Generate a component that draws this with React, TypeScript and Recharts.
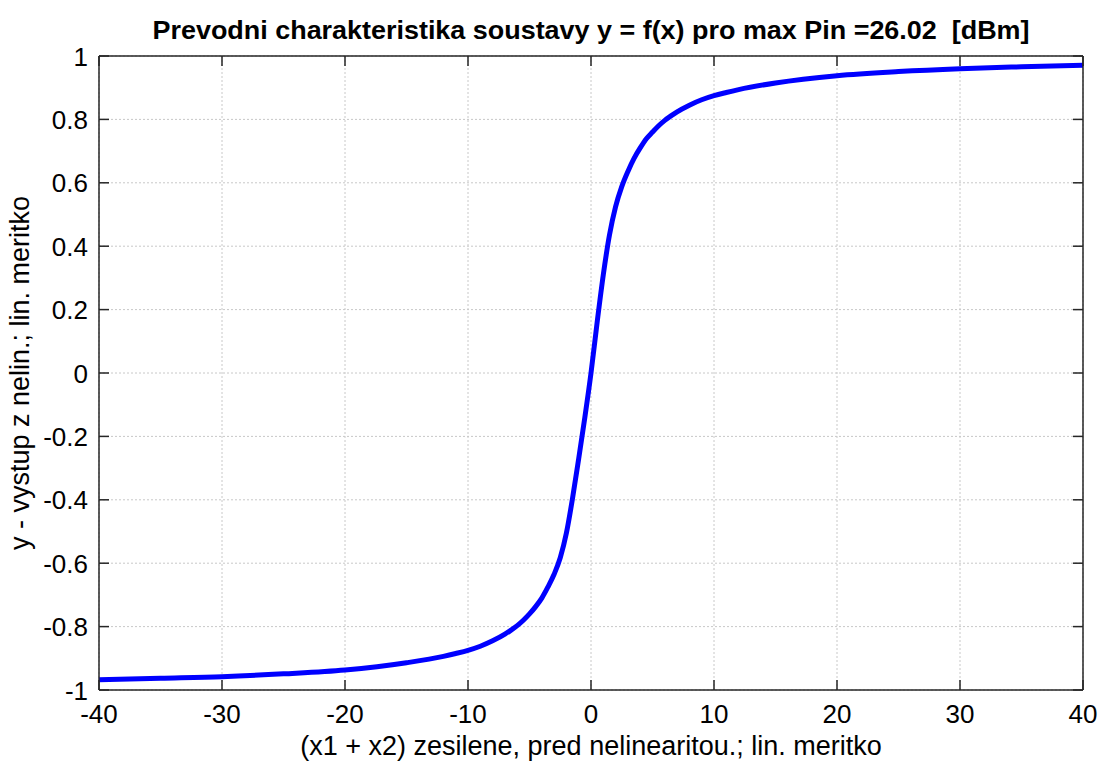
import React from 'react';
import { LineChart, Line, XAxis, YAxis, CartesianGrid } from 'recharts';

// input (x1 + x2) after the amplifier, linear scale
const xIn = [
  -40, -35, -30, -25, -20, -15, -12, -11, -10, -9, -8, -7, -6.5, -6, -5.5, -5, -4.5, -4, -3.5, -3,
  -2.5, -2, -1.5, -1, -0.5, 0, 0.5, 1, 1.5, 2, 2.5, 3, 3.5, 4, 4.5, 5, 5.5, 6, 6.5, 7, 8, 9, 10,
  11, 12, 15, 20, 25, 30, 35, 40,
];
// output of the nonlinearity
const yOut = [
  -0.968, -0.963, -0.958, -0.949, -0.937, -0.914, -0.894, -0.885, -0.875, -0.862, -0.845, -0.824,
  -0.811, -0.797, -0.78, -0.76, -0.737, -0.71, -0.675, -0.635, -0.583, -0.505, -0.395, -0.27, -0.14,
  0, 0.16, 0.31, 0.435, 0.525, 0.588, 0.636, 0.677, 0.71, 0.739, 0.76, 0.78, 0.797, 0.811, 0.824,
  0.845, 0.862, 0.875, 0.885, 0.894, 0.915, 0.938, 0.951, 0.96, 0.966, 0.971,
];

const xTicks = [-40, -30, -20, -10, 0, 10, 20, 30, 40];
const yTicks = [-1, -0.8, -0.6, -0.4, -0.2, 0, 0.2, 0.4, 0.6, 0.8, 1];

const data = xIn.map((x, i) => ({ x, y: yOut[i] }));

const W = 1101;
const H = 763;
const FONT = '"Liberation Sans", Arial, sans-serif';
const TICK_LEN = 10;
const AXIS_COLOR = '#262626';

const BottomTick = (props: any) => {
  const { x, y, payload } = props;
  return (
    <g>
      <line x1={x} y1={y} x2={x} y2={y - TICK_LEN} stroke={AXIS_COLOR} strokeWidth={1.5} />
      <text x={x} y={y + 33} textAnchor="middle" fontSize={26} fontFamily={FONT} fill="#000">
        {String(payload.value)}
      </text>
    </g>
  );
};

const LeftTick = (props: any) => {
  const { x, y, payload } = props;
  return (
    <g>
      <line x1={x} y1={y} x2={x + TICK_LEN} y2={y} stroke={AXIS_COLOR} strokeWidth={1.5} />
      <text x={x - 11} y={y + 9.5} textAnchor="end" fontSize={26} fontFamily={FONT} fill="#000">
        {String(payload.value)}
      </text>
    </g>
  );
};

const TopTick = (props: any) => {
  const { x, y } = props;
  return <line x1={x} y1={y} x2={x} y2={y + TICK_LEN} stroke={AXIS_COLOR} strokeWidth={1.5} />;
};

const RightTick = (props: any) => {
  const { x, y } = props;
  return <line x1={x} y1={y} x2={x - TICK_LEN} y2={y} stroke={AXIS_COLOR} strokeWidth={1.5} />;
};

const axisLine = { stroke: AXIS_COLOR, strokeWidth: 1.5 };

export default function App() {
  return (
    <div style={{ position: 'absolute', left: 0, top: 0, width: W, height: H, background: '#fff' }}>
      <LineChart
        width={W}
        height={H}
        data={data}
        margin={{ top: 55, right: 17, bottom: 72, left: 98 }}
      >
        <CartesianGrid stroke="#c8c8c8" strokeDasharray="2 2" />
        <XAxis
          dataKey="x"
          type="number"
          domain={[-40, 40]}
          ticks={xTicks}
          height={1}
          tickSize={0}
          tickMargin={0}
          tickLine={false}
          tick={<BottomTick />}
          axisLine={axisLine}
          interval={0}
          allowDataOverflow
        />
        <XAxis
          xAxisId="top"
          orientation="top"
          dataKey="x"
          type="number"
          domain={[-40, 40]}
          ticks={xTicks}
          height={1}
          tickSize={0}
          tickMargin={0}
          tickLine={false}
          tick={<TopTick />}
          axisLine={axisLine}
          interval={0}
          allowDataOverflow
        />
        <YAxis
          type="number"
          domain={[-1, 1]}
          ticks={yTicks}
          width={1}
          tickSize={0}
          tickMargin={0}
          tickLine={false}
          tick={<LeftTick />}
          axisLine={axisLine}
          interval={0}
          allowDataOverflow
        />
        <YAxis
          yAxisId="right"
          orientation="right"
          type="number"
          domain={[-1, 1]}
          ticks={yTicks}
          width={1}
          tickSize={0}
          tickMargin={0}
          tickLine={false}
          tick={<RightTick />}
          axisLine={axisLine}
          interval={0}
          allowDataOverflow
        />
        <Line
          dataKey="y"
          type="monotone"
          stroke="#0000ff"
          strokeWidth={5}
          dot={false}
          isAnimationActive={false}
        />
      </LineChart>
      <svg
        width={W}
        height={H}
        style={{ position: 'absolute', left: 0, top: 0, pointerEvents: 'none' }}
      >
        <text
          x={591}
          y={39}
          textAnchor="middle"
          fontSize={26}
          fontWeight="bold"
          fontFamily={FONT}
          textLength={877}
          lengthAdjust="spacingAndGlyphs"
          style={{ whiteSpace: 'pre' }}
        >
          {'Prevodni charakteristika soustavy y = f(x) pro max Pin =26.02  [dBm]'}
        </text>
        <text x={591} y={755} textAnchor="middle" fontSize={27} fontFamily={FONT}>
          (x1 + x2) zesilene, pred nelinearitou.; lin. meritko
        </text>
        <text
          x={0}
          y={0}
          transform="translate(29, 373) rotate(-90)"
          textAnchor="middle"
          fontSize={27}
          fontFamily={FONT}
        >
          y - vystup z nelin.; lin. meritko
        </text>
      </svg>
    </div>
  );
}
